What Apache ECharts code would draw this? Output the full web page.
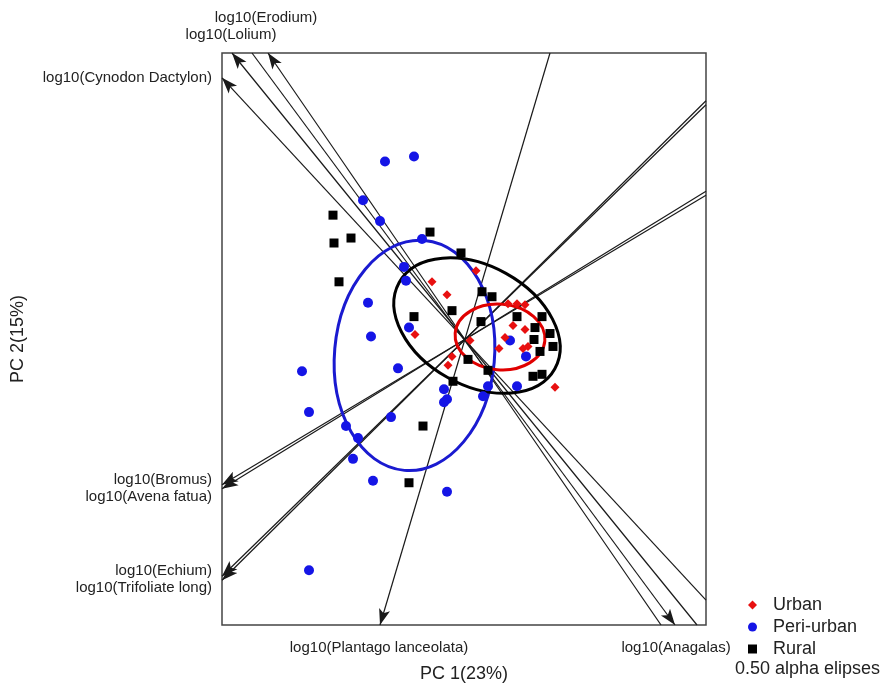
<!DOCTYPE html>
<html>
<head>
<meta charset="utf-8">
<script src="https://cdn.jsdelivr.net/npm/echarts@6/dist/echarts.min.js"></script>
<style>
html,body{margin:0;padding:0;background:#fff}
#chart{width:889px;height:688px}
</style>
</head>
<body>
<div id="chart"></div>
<script>
// PC scores, origin at the biplot centre
var urban = [[-33,58],[-18,45],[11,69],[43,36],[52,36],[60,35],[48,14],[60,10],[-50,5],
    [5,-1],[40,2],[34,-9],[58,-9],[63,-7],[-13,-17],[-17,-26],[90,-48]];
var periUrban = [[-80,179],[-51,184],[-102,140],[-85,119],[-43,101],[-61,73],[-59,59],[-97,37],
    [-94,3],[-56,12],[-163,-32],[-67,-29],[-21,-50],[-18,-60],[-21,-63],[23,-47],[18,-57],
    [52,-47],[45,-1],[61,-17],[-156,-73],[-119,-87],[-107,-99],[-74,-78],[-112,-120],
    [-92,-142],[-18,-153],[-156,-232]];
var rural = [[-132,125],[-131,97],[-114,102],[-126,58],[-35,108],[-4,87],[-51,23],[-13,29],
    [17,48],[27,43],[16,18],[52,23],[77,23],[70,12],[85,6],[69,0],[88,-7],[75,-12],[3,-20],
    [23,-31],[68,-37],[77,-35],[-12,-42],[-42,-87],[-56,-144]];

// 0.50 alpha ellipses: cx, cy, rx, ry, rotation (deg)
var urbanEllipse = [35, 2.5, 45, 33, -5];
var periUrbanEllipse = [-50.5, -16, 80, 116, -5];
var ruralEllipse = [12, 14, 89, 60, -29];

// loadings, drawn as lines across the panel, arrow at the tip
var loadingNames = ['log10(Erodium)','log10(Lolium)','log10(Cynodon Dactylon)','log10(Anagalas)',
    'log10(Plantago lanceolata)','log10(Bromus)','log10(Avena fatua)','log10(Echium)','log10(Trifoliate long)'];
var loadingTips = [[-197,288],[-233,288],[-243,263],[210,-287],[-85,-287],[-243,-146],[-243,-150],[-243,-238],[-243,-242]];
var loadingTails = [[196,-287],[232,-287],[241,-262],[-213,288],[85,288],[241,145],[241,149],[241,236],[241,240]];

// where the loading names sit (px)
var labelPos = [[266,18,'center'],[231,35,'center'],[212,78,'right'],[676,648,'center'],
    [379,648,'center'],[212,480,'right'],[212,497,'right'],[212,571,'right'],[212,588,'right']];

var FONT = 'Liberation Sans, Arial, sans-serif';
// dart with its tip at the centre of a square box, so the tip lands on the line end
var ARROW = 'path://M-9,-17 M25,17 M8,0 L14,17 L8,13 L2,17 Z';
var chart = echarts.init(document.getElementById('chart'));

function ellipseSeries(name, item, color) {
    return {
        name: name, type: 'custom', z: 3,
        data: [item],
        renderItem: function (params, api) {
            var c = api.coord([api.value(0), api.value(1)]);
            var s = api.size([api.value(2), api.value(3)]);
            return {
                type: 'ellipse',
                x: c[0], y: c[1],
                rotation: api.value(4) * Math.PI / 180,
                shape: {cx: 0, cy: 0, rx: s[0], ry: s[1]},
                style: {fill: 'none', stroke: color, lineWidth: 3}
            };
        }
    };
}

var lineData = [];
for (var i = 0; i < loadingNames.length; ++i) {
    lineData.push({name: loadingNames[i], coords: [loadingTails[i], loadingTips[i]]});
}

var texts = [];
for (var j = 0; j < loadingNames.length; ++j) {
    texts.push({
        type: 'text', x: labelPos[j][0], y: labelPos[j][1],
        style: {text: loadingNames[j], align: labelPos[j][2], verticalAlign: 'middle',
            fontSize: 15, fontFamily: FONT, fill: '#222'}
    });
}
texts.push({
    type: 'text', x: 735, y: 669,
    style: {text: '0.50 alpha elipses', align: 'left', verticalAlign: 'middle',
        fontSize: 18, fontFamily: FONT, fill: '#222'}
});

var option = {
    animation: false,
    backgroundColor: '#fff',
    textStyle: {fontFamily: FONT},
    grid: {left: 222, right: 183, top: 53, bottom: 60, show: true, borderColor: '#444', borderWidth: 1.5},
    xAxis: {
        type: 'value', min: -243, max: 241,
        name: 'PC 1(23%)', nameLocation: 'middle', nameGap: 40,
        nameTextStyle: {fontSize: 18, color: '#222', fontFamily: FONT},
        axisLine: {show: false}, axisTick: {show: false}, axisLabel: {show: false}, splitLine: {show: false}
    },
    yAxis: {
        type: 'value', min: -287, max: 288,
        name: 'PC 2(15%)', nameLocation: 'middle', nameGap: 195, nameRotate: 90,
        nameTextStyle: {fontSize: 18, color: '#222', fontFamily: FONT},
        axisLine: {show: false}, axisTick: {show: false}, axisLabel: {show: false}, splitLine: {show: false}
    },
    legend: {
        orient: 'vertical', left: 748, top: 596, padding: 0,
        itemWidth: 9, itemHeight: 9, itemGap: 4,
        data: ['Urban', 'Peri-urban', 'Rural'],
        textStyle: {fontSize: 18, color: '#222', fontFamily: FONT, padding: [0, 0, 0, 11]}
    },
    graphic: texts,
    series: [
        {
            name: 'loadings', type: 'lines', coordinateSystem: 'cartesian2d', z: 2,
            symbol: ['none', ARROW],
            symbolSize: 32,
            lineStyle: {color: '#1a1a1a', width: 1.2, opacity: 1},
            itemStyle: {color: '#000'},
            data: lineData
        },
        ellipseSeries('Peri-urban ellipse', periUrbanEllipse, '#1a1ad0'),
        ellipseSeries('Rural ellipse', ruralEllipse, '#000'),
        ellipseSeries('Urban ellipse', urbanEllipse, '#e00000'),
        {name: 'Rural', type: 'scatter', z: 5, symbol: 'rect', symbolSize: 9,
            itemStyle: {color: '#000', opacity: 1}, data: rural},
        {name: 'Peri-urban', type: 'scatter', z: 5, symbol: 'circle', symbolSize: 10,
            itemStyle: {color: '#1515e6', opacity: 1}, data: periUrban},
        {name: 'Urban', type: 'scatter', z: 5, symbol: 'diamond', symbolSize: 9,
            itemStyle: {color: '#e81010', opacity: 1}, data: urban}
    ]
};
chart.setOption(option);
</script>
</body>
</html>
